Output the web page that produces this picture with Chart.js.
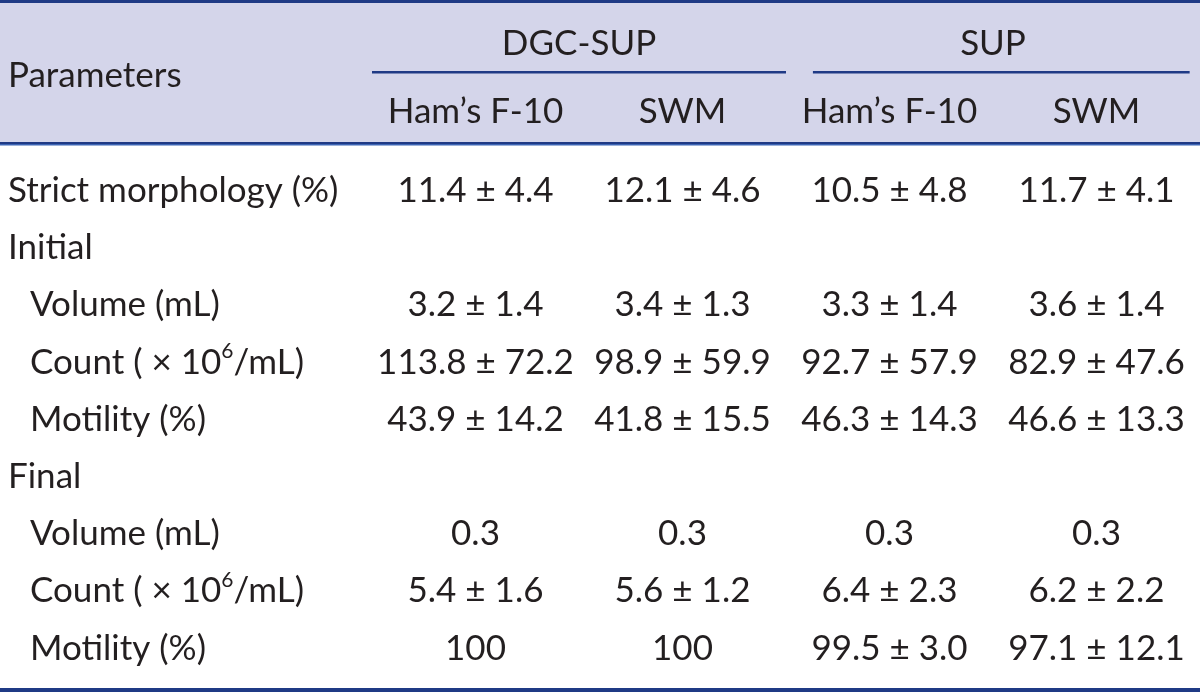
<!DOCTYPE html>
<html>
<head>
<meta charset="utf-8">
<script src="https://cdn.jsdelivr.net/npm/chart.js@4"></script>
<style>
  html, body { margin: 0; padding: 0; background: #fff; }
  #wrap { width: 1200px; height: 692px; }
</style>
</head>
<body>
<div id="wrap"><canvas id="table-chart"></canvas></div>
<script>
// table content
const groups = ['DGC-SUP', 'SUP'];
const media = ['Ham\u2019s F-10', 'SWM', 'Ham\u2019s F-10', 'SWM'];
const rowLabels = [
  'Strict morphology (%)', 'Initial', 'Volume (mL)', 'Count ( \u00d7 10^6/mL)', 'Motility (%)',
  'Final', 'Volume (mL)', 'Count ( \u00d7 10^6/mL)', 'Motility (%)'
];
const rowIndent = [0, 0, 1, 1, 1, 0, 1, 1, 1];

// mean and SD per column (null = empty cell / no SD)
const dgcHamsMean = [11.4, null, 3.2, 113.8, 43.9, null, 0.3, 5.4, 100];
const dgcHamsSd   = [4.4, null, 1.4, 72.2, 14.2, null, null, 1.6, null];
const dgcSwmMean  = [12.1, null, 3.4, 98.9, 41.8, null, 0.3, 5.6, 100];
const dgcSwmSd    = [4.6, null, 1.3, 59.9, 15.5, null, null, 1.2, null];
const supHamsMean = [10.5, null, 3.3, 92.7, 46.3, null, 0.3, 6.4, 99.5];
const supHamsSd   = [4.8, null, 1.4, 57.9, 14.3, null, null, 2.3, 3.0];
const supSwmMean  = [11.7, null, 3.6, 82.9, 46.6, null, 0.3, 6.2, 97.1];
const supSwmSd    = [4.1, null, 1.4, 47.6, 13.3, null, null, 2.2, 12.1];

const columns = [
  { mean: dgcHamsMean, sd: dgcHamsSd },
  { mean: dgcSwmMean, sd: dgcSwmSd },
  { mean: supHamsMean, sd: supHamsSd },
  { mean: supSwmMean, sd: supSwmSd }
];

const FONT = 'Lato, "Open Sans", sans-serif';
const TEXT = '#231f20';
const NAVY = '#1f3a85';
const HEAD_BG = '#d4d5ea';

function cellText(mean, sd) {
  if (sd == null) return String(mean);
  return mean.toFixed(1) + ' \u00b1 ' + sd.toFixed(1);
}

// draw text with a "^x" superscript part
function drawRich(ctx, str, x, y, size) {
  const parts = str.split(/\^(\S)/);
  let cx = x;
  parts.forEach((p, i) => {
    if (i % 2 === 1) {
      ctx.font = Math.round(size * 0.6) + 'px ' + FONT;
      ctx.fillText(p, cx, y - size * 0.32);
    } else {
      ctx.font = size + 'px ' + FONT;
      ctx.fillText(p, cx, y);
    }
    cx += ctx.measureText(p).width;
  });
}

const tablePlugin = {
  id: 'tablePlugin',
  beforeDraw(chart) {
    const { ctx, width, scales: { x } } = chart;
    ctx.save();
    // header band
    ctx.fillStyle = HEAD_BG;
    ctx.fillRect(0, 0, width, 145);
    ctx.fillStyle = NAVY;
    ctx.fillRect(0, 0, width, 3);
    ctx.fillRect(0, 142, width, 2);
    ctx.fillStyle = '#3c64b4';
    ctx.fillRect(0, 144, width, 1.5);
    ctx.fillStyle = NAVY;
    ctx.fillRect(0, 688, width, 4);

    ctx.fillStyle = TEXT;
    ctx.textBaseline = 'middle';
    ctx.textAlign = 'left';
    ctx.font = '35px ' + FONT;
    ctx.fillText('Parameters', 8, 76);

    // group headers with underline
    const spans = [[-0.5, 1.5], [1.63, 3.45]];
    groups.forEach((g, i) => {
      const x0 = x.getPixelForValue(i * 2);
      const x1 = x.getPixelForValue(i * 2 + 1);
      ctx.textAlign = 'center';
      ctx.fillStyle = TEXT;
      ctx.fillText(g, (x0 + x1) / 2, 44);
      ctx.fillStyle = NAVY;
      const a = x.getPixelForValue(spans[i][0]);
      const b = x.getPixelForValue(spans[i][1]);
      ctx.fillRect(a, 71, b - a, 2.5);
    });
    ctx.fillStyle = TEXT;
    media.forEach((m, i) => {
      ctx.fillText(m, x.getPixelForValue(i), 112);
    });
    ctx.restore();
  },
  afterDatasetsDraw(chart) {
    const { ctx, scales: { y } } = chart;
    ctx.save();
    ctx.fillStyle = TEXT;
    ctx.textBaseline = 'middle';
    ctx.textAlign = 'left';
    rowLabels.forEach((lab, i) => {
      drawRich(ctx, lab, rowIndent[i] ? 30 : 8, y.getPixelForValue(i), 35);
    });
    ctx.textAlign = 'center';
    ctx.font = '35px ' + FONT;
    chart.data.datasets.forEach((ds, di) => {
      const meta = chart.getDatasetMeta(di);
      meta.data.forEach((pt, k) => {
        const raw = ds.data[k];
        ctx.fillText(cellText(raw.mean, raw.sd), pt.x, pt.y);
      });
    });
    ctx.restore();
  }
};

const datasets = columns.map((col, ci) => ({
  label: media[ci],
  data: col.mean
    .map((m, r) => (m == null ? null : { x: ci, y: r, mean: m, sd: col.sd[r] }))
    .filter(p => p),
  pointRadius: 0,
  showLine: false
}));

const ctx = document.getElementById('table-chart').getContext('2d');
new Chart(ctx, {
  type: 'scatter',
  data: { datasets: datasets },
  options: {
    responsive: true,
    maintainAspectRatio: false,
    animation: false,
    layout: { padding: { left: 372, right: 0, top: 162, bottom: 15 } },
    scales: {
      x: { type: 'linear', min: -0.5, max: 3.5, display: false },
      y: { type: 'linear', min: -0.5, max: 8.5, reverse: true, display: false }
    },
    plugins: {
      legend: { display: false },
      tooltip: { enabled: false }
    }
  },
  plugins: [tablePlugin]
});
</script>
</body>
</html>
